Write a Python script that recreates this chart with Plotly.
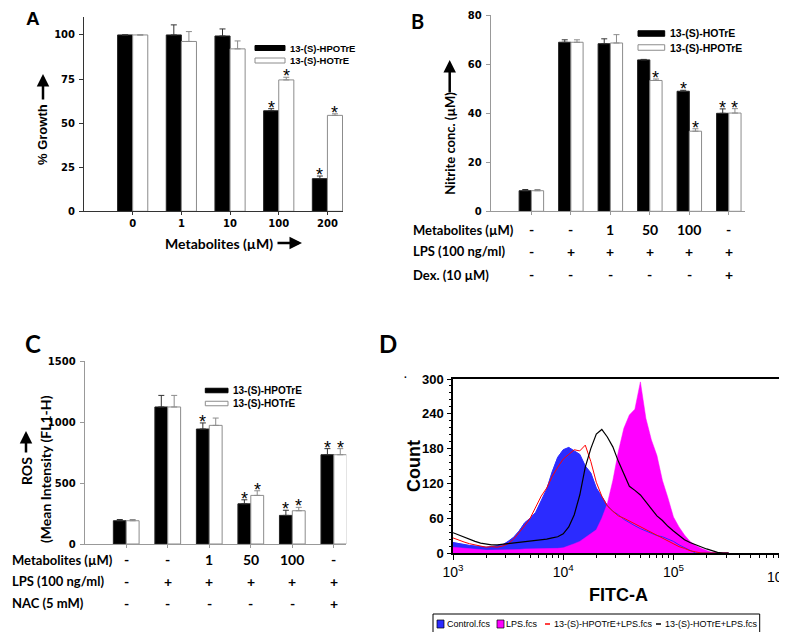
import plotly.graph_objects as go

W, H = 787, 632

# A: % growth vs metabolite dose
a_groups = ["0", "1", "10", "100", "200"]
a_hpotre = [100, 100, 99.4, 57.0, 18.5]
a_hpotre_err = [0, 5.7, 4.0, 1.2, 1.5]
a_hotre = [100, 96.3, 92.1, 74.5, 54.4]
a_hotre_err = [0, 5.6, 4.5, 1.5, 0.9]
a_hpotre_sig = [0, 0, 0, 1, 1]
a_hotre_sig = [0, 0, 0, 1, 1]

# B: nitrite (black = HOTrE, white = HPOTrE)
b_hotre = [8.4, 69.0, 68.4, 61.8, 49.0, 40.0]
b_hotre_err = [0.5, 1.0, 2.0, 0.2, 0.4, 1.8]
b_hpotre = [8.4, 69.0, 68.7, 53.4, 32.7, 40.1]
b_hpotre_err = [0.5, 1.0, 3.4, 0.6, 1.0, 1.8]
b_hotre_sig = [0, 0, 0, 0, 1, 1]
b_hpotre_sig = [0, 0, 0, 1, 1, 1]
b_metab = ["-", "-", "1", "50", "100", "-"]
b_lps = ["-", "+", "+", "+", "+", "+"]
b_dex = ["-", "-", "-", "-", "-", "+"]

# C: ROS (black = HPOTrE, white = HOTrE)
c_hpotre = [191, 1125, 944, 330, 235, 733]
c_hpotre_err = [10, 95, 50, 33, 42, 50]
c_hotre = [191, 1125, 974, 399, 273, 733]
c_hotre_err = [10, 95, 60, 38, 28, 50]
c_hpotre_sig = [0, 0, 1, 1, 1, 1]
c_hotre_sig = [0, 0, 0, 1, 1, 1]
c_metab = ["-", "-", "1", "50", "100", "-"]
c_lps = ["-", "+", "+", "+", "+", "+"]
c_nac = ["-", "-", "-", "-", "-", "+"]

# D: flow cytometry histograms (log10 FITC-A bins)
fitc_exp = [3.00, 3.05, 3.10, 3.15, 3.20, 3.25, 3.30, 3.35, 3.40, 3.45,
            3.50, 3.55, 3.60, 3.65, 3.70, 3.75, 3.80, 3.85, 3.90, 3.95,
            4.00, 4.05, 4.10, 4.15, 4.20, 4.25, 4.30, 4.35, 4.40, 4.45,
            4.50, 4.55, 4.60, 4.65, 4.70, 4.75, 4.80, 4.85, 4.90, 4.95,
            5.00, 5.05, 5.10, 5.15, 5.20, 5.25, 5.30, 5.35, 5.40, 5.45, 5.50]
control = [18, 16, 15, 13, 12, 11, 10, 11, 12, 14,
           20, 27, 38, 52, 60, 70, 90, 110, 140, 165,
           178, 182, 176, 170, 150, 138, 112, 96, 82, 72,
           66, 58, 52, 47, 42, 38, 34, 30, 28, 24,
           20, 14, 9, 4, 0, 0, 0, 0, 0, 0, 0]
lps = [10, 9, 8, 7, 6, 5, 5, 5, 5, 5,
       6, 6, 6, 7, 7, 7, 7, 8, 8, 8,
       9, 12, 16, 20, 27, 33, 40, 60, 85, 125,
       175, 215, 238, 248, 295, 232, 195, 168, 125, 95,
       62, 45, 31, 20, 13, 8, 5, 1, 0, 0, 0]
hpotre_lps = [26, 22, 19, 16, 14, 12, 10, 11, 10, 12,
              16, 24, 35, 47, 60, 78, 98, 112, 132, 148,
              162, 170, 178, 176, 186, 158, 122, 98, 81, 72,
              64, 60, 55, 50, 45, 40, 35, 30, 26, 20,
              15, 11, 8, 4, 2, 0, 0, 0, 0, 0, 0]
hotre_lps = [35, 31, 28, 24, 20, 17, 15, 14, 14, 15,
             16, 17, 18, 20, 20, 22, 23, 24, 26, 28,
             33, 45, 66, 100, 148, 180, 205, 213, 200, 183,
             158, 135, 115, 108, 100, 88, 75, 64, 56, 46,
             38, 30, 23, 18, 14, 10, 7, 4, 1, 0, 0]
fitc_ticks = ["10<sup>3</sup>", "10<sup>4</sup>", "10<sup>5</sup>", "10<sup>6</sup>"]


def px(x):
    return x / W


def py(y):
    return 1 - y / H


BARGAP = 0.38
ARIALB = dict(family="Liberation Sans, Arial", color="black", weight="bold")
CALB = dict(family="Lato, Liberation Sans", color="black", weight="bold")

fig = go.Figure()
annos = []
shapes = []


def add_bars(xa, ya, vals, errs, sig, dark):
    xs = list(range(len(vals)))
    fig.add_trace(go.Bar(
        x=xs, y=vals, xaxis=xa, yaxis=ya, showlegend=False,
        marker=dict(color="black" if dark else "white",
                    line=dict(color="#222222" if dark else "#8c8c8c", width=1)),
        error_y=dict(type="data", array=errs, arrayminus=[0] * len(errs),
                     symmetric=False, color="#333333" if dark else "#8c8c8c",
                     thickness=1, width=3)))
    off = (1 - BARGAP) / 4 * (-1 if dark else 1)
    for i, s in enumerate(sig):
        if s:
            annos.append(dict(x=i + off, y=vals[i] + errs[i], xref=xa, yref=ya.replace("axis", ""),
                              text="*", showarrow=False, yanchor="middle", yshift=1,
                              font=dict(family="Liberation Sans, Arial", size=18, color="black")))


add_bars("x", "y", a_hpotre, a_hpotre_err, a_hpotre_sig, True)
add_bars("x", "y", a_hotre, a_hotre_err, a_hotre_sig, False)
add_bars("x2", "y2", b_hotre, b_hotre_err, b_hotre_sig, True)
add_bars("x2", "y2", b_hpotre, b_hpotre_err, b_hpotre_sig, False)
add_bars("x3", "y3", c_hpotre, c_hpotre_err, c_hpotre_sig, True)
add_bars("x3", "y3", c_hotre, c_hotre_err, c_hotre_sig, False)

fx = [10 ** e for e in fitc_exp]
fig.add_trace(go.Scatter(x=fx, y=control, xaxis="x4", yaxis="y4", mode="lines", fill="tozeroy",
                         fillcolor="#2b2bff", line=dict(color="#2b2bff", width=0.5), showlegend=False))
fig.add_trace(go.Scatter(x=fx, y=lps, xaxis="x4", yaxis="y4", mode="lines", fill="tozeroy",
                         fillcolor="#ff00ff", line=dict(color="#ff00ff", width=0.5), showlegend=False))
fig.add_trace(go.Scatter(x=fx, y=control, xaxis="x4", yaxis="y4", mode="lines",
                         line=dict(color="#2b2bff", width=1), showlegend=False))
fig.add_trace(go.Scatter(x=fx, y=hpotre_lps, xaxis="x4", yaxis="y4", mode="lines",
                         line=dict(color="#ff0000", width=1), showlegend=False))
fig.add_trace(go.Scatter(x=fx, y=hotre_lps, xaxis="x4", yaxis="y4", mode="lines",
                         line=dict(color="black", width=1.2), showlegend=False))

tickf = dict(family="DejaVu Sans", size=10, color="black", weight="bold")
fitcf = dict(family="Liberation Sans, Arial", size=14, color="black")


def bar_xaxis(d0, d1, rng, n, labels, anchor, col):
    return dict(domain=[px(d0), px(d1)], range=rng, anchor=anchor, tickvals=list(range(n)),
                ticktext=labels if labels else [""] * n, showticklabels=labels is not None,
                ticks="outside", ticklen=3, automargin=False,
                tickcolor=col, showline=True, linecolor=col, linewidth=1, showgrid=False,
                zeroline=False, tickfont=tickf, fixedrange=True)


def bar_yaxis(d0, d1, rng, dt, anchor, col):
    return dict(domain=[py(d0), py(d1)], range=rng, anchor=anchor, dtick=dt, ticks="outside",
                ticklen=4, tickcolor=col, showline=True, linecolor=col, linewidth=1,
                automargin=False, showgrid=False, zeroline=False, tickfont=tickf,
                ticklabelstandoff=2)


fig.update_layout(
    width=W, height=H, margin=dict(l=0, r=0, t=0, b=0),
    paper_bgcolor="white", plot_bgcolor="white",
    barmode="group", bargap=BARGAP, bargroupgap=0,
    xaxis=bar_xaxis(76, 335, [-1.0, 4.32], 5, a_groups, "y", "#333333"),
    yaxis=bar_yaxis(203.3, 9.3, [0, 110], 25, "x", "#333333"),
    xaxis2=bar_xaxis(482.7, 737, [-1.03, 5.41], 6, None, "y2", "#999999"),
    yaxis2=bar_yaxis(203.3, 7.3, [0, 80], 20, "x2", "#999999"),
    xaxis3=bar_xaxis(76.7, 338.3, [-1.0, 5.3], 6, None, "y3", "#999999"),
    yaxis3=bar_yaxis(536, 353.3, [0, 1500], 500, "x3", "#999999"),
    xaxis4=dict(type="log", domain=[px(445), px(775.7)], range=[3, 6], anchor="y4",
                tickvals=[1e3, 1e4, 1e5, 1e6],
                ticktext=fitc_ticks[:3] + [""],
                ticks="outside", ticklen=5, tickcolor="black", showline=True, mirror=True,
                linecolor="black", linewidth=1.5, showgrid=False, zeroline=False,
                automargin=False, tickfont=fitcf,
                minor=dict(ticks="outside", ticklen=3, tickcolor="black",
                           tickvals=[m * 10 ** d for d in (3, 4, 5) for m in range(2, 10)])),
    yaxis4=dict(domain=[py(545), py(371)], range=[0, 300], anchor="x4", dtick=60,
                ticks="outside", ticklen=4, tickcolor="black", showline=True, mirror=True,
                linecolor="black", linewidth=1.5, showgrid=False, zeroline=False,
                automargin=False,
                tickfont=dict(family="Liberation Sans, Arial", size=13, color="black", weight="bold"),
                ticklabelstandoff=1,
                minor=dict(ticks="outside", ticklen=2, tickcolor="black", dtick=12)),
)


def text(x, y, s, font, size, **kw):
    d = dict(x=px(x), y=py(y), xref="paper", yref="paper", text=s, showarrow=False,
             font=dict(size=size, **font), xanchor=kw.pop("xanchor", "center"),
             yanchor=kw.pop("yanchor", "middle"))
    d.update(kw)
    annos.append(d)


def arrow(x0, y0, x1, y1):
    # thick arrow drawn from (x0, y0) to the head at (x1, y1), pixel positions
    annos.append(dict(x=px(x1), y=py(y1), xref="paper", yref="paper", ax=x0 - x1, ay=y0 - y1,
                      text="", showarrow=True, arrowhead=2, arrowsize=1, arrowwidth=2.5,
                      arrowcolor="black", standoff=0, startstandoff=0))


# last decade label sits at the right edge of the page, nudged inside
annos.append(dict(x=px(770), y=py(568), xref="paper", yref="paper", text=fitc_ticks[3],
                  showarrow=False, xanchor="center", yanchor="middle", font=fitcf))

# panel letters
text(25, 11, "A", ARIALB, 19)
text(409, 13, "B", CALB, 20)
text(25, 336, "C", CALB, 24)
text(380, 336, "D", CALB, 24)
text(397, 366, ".", ARIALB, 10)

# axis titles
text(35, 127, "% Growth", ARIALB, 13, textangle=-90)
arrow(35, 93, 35, 66)
text(155, 235, "Metabolites (µM)", CALB, 14, xanchor="left")
arrow(268, 235, 294, 235)
text(441.7, 135, "Nitrite conc. (µM)", CALB, 13, textangle=-90)
arrow(441.7, 86, 441.7, 52)
text(18, 463, "ROS", CALB, 14, textangle=-90)
arrow(18, 446, 18, 423)
text(37, 461, "(Mean Intensity (FL1-H)", CALB, 14, textangle=-90)
text(406, 458, "Count", ARIALB, 18, textangle=-90)
text(610, 587, "FITC-A", ARIALB, 18)


# treatment tables below B and C
def table(xref, x_lab, rows):
    for y, label, vals in rows:
        text(x_lab, y, label, CALB, 13, xanchor="left")
        for i, v in enumerate(vals):
            annos.append(dict(x=i, y=py(y), xref=xref, yref="paper", text=v, showarrow=False,
                              font=dict(size=14, **CALB), xanchor="center", yanchor="middle"))


table("x2", 403, [(221.7, "Metabolites (µM)", b_metab),
                  (243.3, "LPS (100 ng/ml)", b_lps),
                  (266.7, "Dex. (10 µM)", b_dex)])
table("x3", 2, [(551.7, "Metabolites (µM)", c_metab),
                (573.3, "LPS (100 ng/ml)", c_lps),
                (595, "NAC (5 mM)", c_nac)])


# bar legends
def bar_legend(x0, x1, y_top, y_bot, sh, names, size):
    for (yy, name, dark) in [(y_top, names[0], True), (y_bot, names[1], False)]:
        shapes.append(dict(type="rect", xref="paper", yref="paper", x0=px(x0), x1=px(x1),
                           y0=py(yy - sh / 2), y1=py(yy + sh / 2),
                           fillcolor="black" if dark else "white",
                           line=dict(color="black" if dark else "#8c8c8c", width=1)))
        text(x1 + 3, yy, name, ARIALB, size, xanchor="left")


bar_legend(247, 277, 40, 52.5, 5, ["13-(S)-HPOTrE", "13-(S)-HOTrE"], 9.5)
bar_legend(630, 656.7, 25.5, 39.5, 5.5, ["13-(S)-HOTrE", "13-(S)-HPOTrE"], 10.5)
bar_legend(197.3, 220, 382.5, 395.5, 4.5, ["13-(S)-HPOTrE", "13-(S)-HOTrE"], 10)

# flow legend
shapes.append(dict(type="rect", xref="paper", yref="paper", x0=px(425), x1=px(751.7),
                   y0=py(625), y1=py(606), line=dict(color="black", width=1), fillcolor="white"))
legf = dict(family="Liberation Sans", color="black")
for x0, col in [(429, "#2b2bff"), (489, "#ff00ff")]:
    shapes.append(dict(type="rect", xref="paper", yref="paper", x0=px(x0), x1=px(x0 + 7),
                       y0=py(620), y1=py(612), fillcolor=col, line=dict(color="black", width=0.7)))
for x0, col in [(537, "#ff0000"), (648, "black")]:
    shapes.append(dict(type="line", xref="paper", yref="paper", x0=px(x0), x1=px(x0 + 5),
                       y0=py(616), y1=py(616), line=dict(color=col, width=1.5)))
for x0, s in [(437, "Control.fcs"), (496, "LPS.fcs"),
              (543.5, "13-(S)-HPOTrE+LPS.fcs"), (654.5, "13-(S)-HOTrE+LPS.fcs")]:
    text(x0, 615.5, s, legf, 9, xanchor="left")

fig.update_layout(annotations=annos, shapes=shapes)
fig.write_html("out.html")
